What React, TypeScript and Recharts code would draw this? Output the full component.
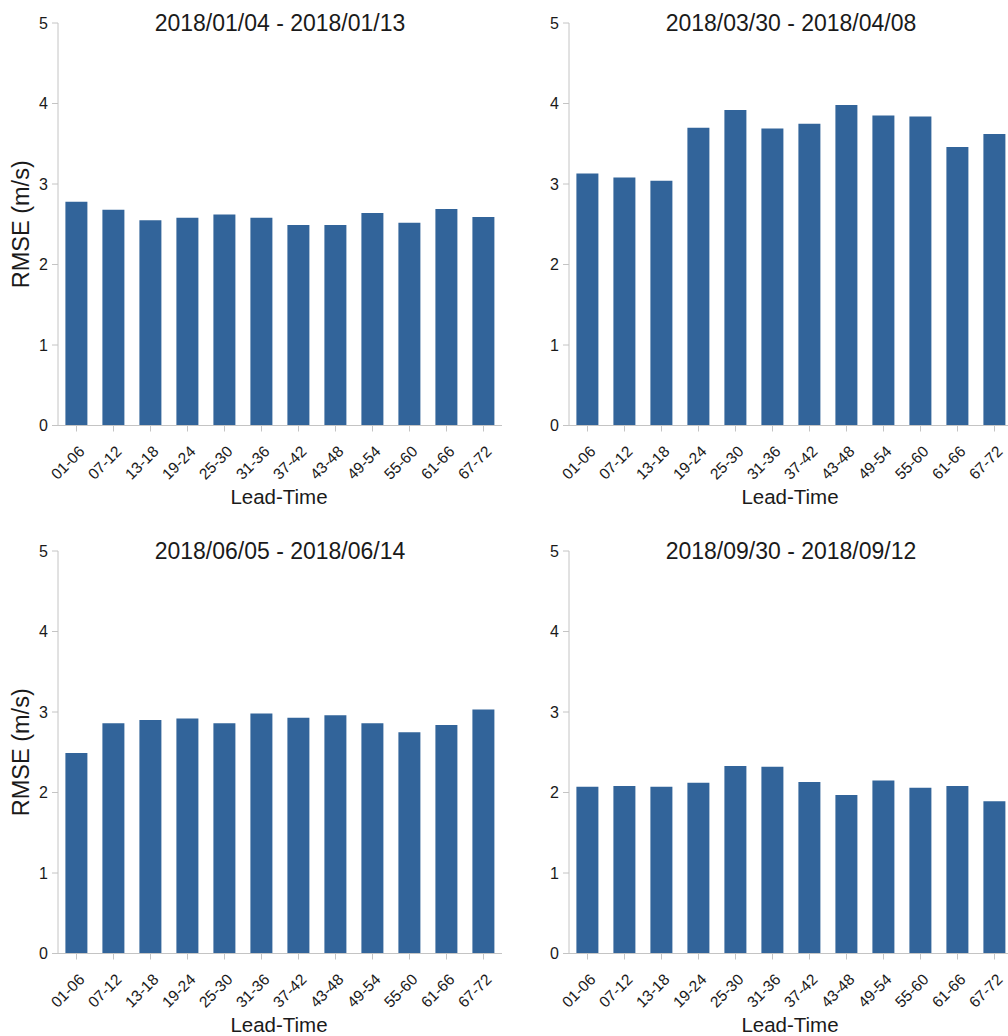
import React from 'react';
import { BarChart, Bar, XAxis, YAxis, Label } from 'recharts';

const categories = ['01-06', '07-12', '13-18', '19-24', '25-30', '31-36', '37-42', '43-48', '49-54', '55-60', '61-66', '67-72'];
const panel1Values = [2.78, 2.68, 2.55, 2.58, 2.62, 2.58, 2.49, 2.49, 2.64, 2.52, 2.69, 2.59];
const panel2Values = [3.13, 3.08, 3.04, 3.70, 3.92, 3.69, 3.75, 3.98, 3.85, 3.84, 3.46, 3.62];
const panel3Values = [2.49, 2.86, 2.90, 2.92, 2.86, 2.98, 2.93, 2.96, 2.86, 2.75, 2.84, 3.03];
const panel4Values = [2.07, 2.08, 2.07, 2.12, 2.33, 2.32, 2.13, 1.97, 2.15, 2.06, 2.08, 1.89];
const titles = ['2018/01/04 - 2018/01/13', '2018/03/30 - 2018/04/08', '2018/06/05 - 2018/06/14', '2018/09/30 - 2018/09/12'];
const yTicks = [0, 1, 2, 3, 4, 5];
const xLabel = 'Lead-Time';
const yLabel = 'RMSE (m/s)';

const FONT = '"Liberation Sans", Arial, Helvetica, sans-serif';
const BAR_COLOR = '#32649a';
const AXIS_COLOR = '#c4c4c4';
const TEXT_COLOR = '#1a1a1a';

const CW = 520;
const CH = 520;

function XTick(props: any) {
  const { x, y, payload } = props;
  const ax = x + 9;
  const ay = y + 19;
  return (
    <text
      x={ax}
      y={ay}
      transform={`rotate(-45 ${ax} ${ay})`}
      textAnchor="end"
      fontSize={15.5}
      fontFamily={FONT}
      fill={TEXT_COLOR}
    >
      {payload.value}
    </text>
  );
}

function makeXLabel(title: string) {
  return (props: any) => {
    const vb = props.viewBox || {};
    const cx = vb.x + vb.width / 2;
    return (
      <g>
        <text x={cx} y={31} textAnchor="middle" fontSize={23} fontFamily={FONT} fill={TEXT_COLOR}>
          {title}
        </text>
        <text x={cx - 1} y={504} textAnchor="middle" fontSize={20.5} fontFamily={FONT} fill={TEXT_COLOR}>
          {xLabel}
        </text>
      </g>
    );
  };
}

function YLabelContent(props: any) {
  const vb = props.viewBox || {};
  const cy = vb.y + vb.height / 2;
  const x = 29;
  return (
    <text
      x={x}
      y={cy}
      transform={`rotate(-90 ${x} ${cy})`}
      textAnchor="middle"
      fontSize={23.5}
      fontFamily={FONT}
      fill={TEXT_COLOR}
    >
      {yLabel}
    </text>
  );
}

function Panel({ values, title, showYLabel }: { values: number[]; title: string; showYLabel: boolean }) {
  const data = categories.map((c, i) => ({ name: c, value: values[i] }));
  return (
    <BarChart
      width={CW}
      height={CH}
      data={data}
      margin={{ top: 23, right: 18, bottom: 34.5, left: 0 }}
      barCategoryGap="20%"
    >
      <XAxis
        dataKey="name"
        interval={0}
        height={60}
        tickSize={6}
        tickMargin={2}
        stroke={AXIS_COLOR}
        tickLine={{ stroke: AXIS_COLOR }}
        axisLine={{ stroke: AXIS_COLOR }}
        tick={<XTick />}
      >
        <Label content={makeXLabel(title)} />
      </XAxis>
      <YAxis
        width={58}
        domain={[0, 5]}
        ticks={yTicks}
        interval={0}
        tickSize={6}
        tickMargin={4}
        stroke={AXIS_COLOR}
        tickLine={{ stroke: AXIS_COLOR }}
        axisLine={{ stroke: AXIS_COLOR }}
        tick={{ fill: TEXT_COLOR, fontSize: 16, fontFamily: FONT }}
      >
        {showYLabel ? <Label content={YLabelContent} /> : null}
      </YAxis>
      <Bar dataKey="value" fill={BAR_COLOR} isAnimationActive={false} />
    </BarChart>
  );
}

export default function App() {
  const pos = [
    { left: 0, top: 0 },
    { left: 511, top: 0 },
    { left: 0, top: 528 },
    { left: 511, top: 528 },
  ];
  const all = [panel1Values, panel2Values, panel3Values, panel4Values];
  return (
    <div
      style={{
        position: 'absolute',
        left: 0,
        top: 0,
        width: 1008,
        height: 1036,
        overflow: 'hidden',
        background: '#ffffff',
        fontFamily: FONT,
      }}
    >
      {all.map((vals, i) => (
        <div key={i} style={{ position: 'absolute', left: pos[i].left, top: pos[i].top, width: CW, height: CH }}>
          <Panel values={vals} title={titles[i]} showYLabel={i % 2 === 0} />
        </div>
      ))}
    </div>
  );
}
